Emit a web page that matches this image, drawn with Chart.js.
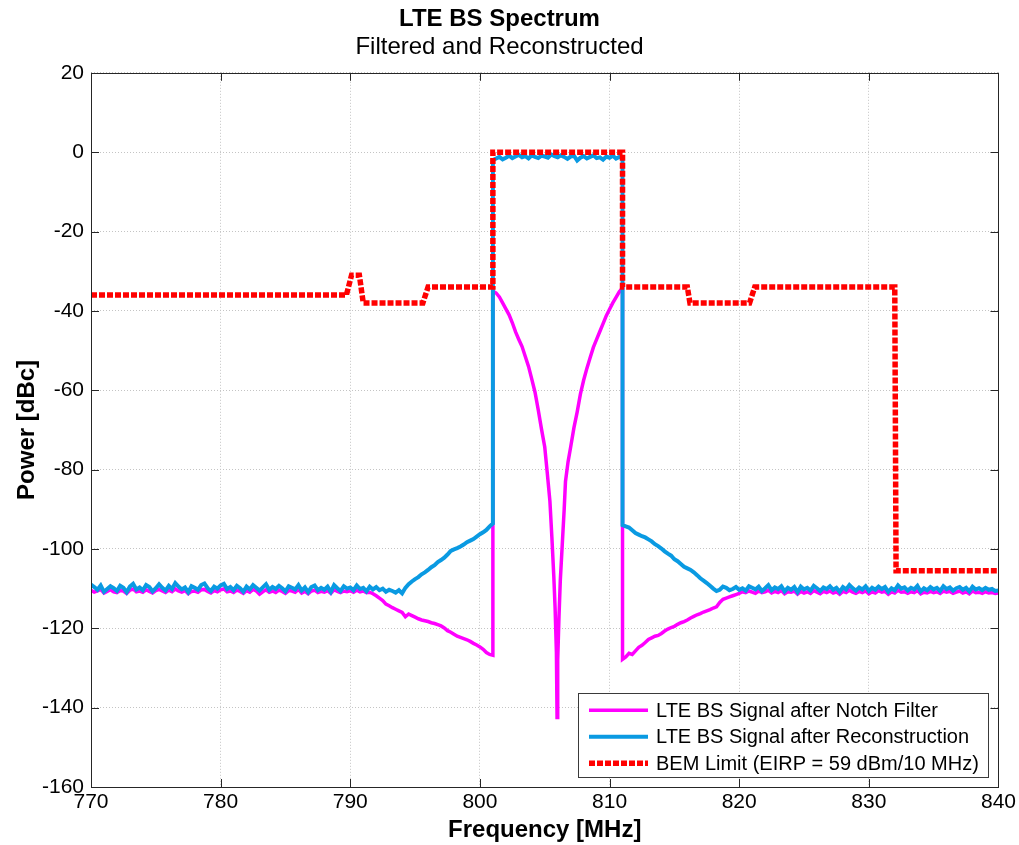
<!DOCTYPE html>
<html>
<head>
<meta charset="utf-8">
<title>LTE BS Spectrum</title>
<script src="https://cdn.jsdelivr.net/npm/chart.js@4.4.1/dist/chart.umd.min.js"></script>
<style>
  html, body { margin: 0; padding: 0; background: #fff; }
  #wrap { width: 1019px; height: 845px; }
</style>
</head>
<body>
<div id="wrap"><canvas id="spectrum-chart"></canvas></div>
<script>
// frequency axis [MHz] and power axis [dBc]
const freqTicks = [770, 780, 790, 800, 810, 820, 830, 840];
const powerTicks = [20, 0, -20, -40, -60, -80, -100, -120, -140, -160];

// sampled traces: one value every 0.25 MHz, segments split at the channel edges
const sampleStep = 0.25;
const leftStart = 770;   // 770 .. 801 MHz
const midStart = 801;    // 801 .. 811 MHz
const rightStart = 811;  // 811 .. 840 MHz

const notchLeft = [
    -110.4, -110.9, -110.6, -110.2, -111.1, -110.7, -110.3, -110.8,
    -111.0, -110.5, -110.6, -111.2, -110.4, -110.1, -110.8, -110.6,
    -110.9, -110.3, -110.7, -111.1, -110.5, -110.2, -110.6, -111.0,
    -110.4, -110.8, -110.1, -110.6, -110.9, -110.5, -111.3, -110.7,
    -110.6, -110.9, -110.3, -110.2, -110.7, -111.1, -110.5, -110.8,
    -110.3, -110.1, -110.8, -110.6, -111.0, -110.4, -110.7, -111.2,
    -110.5, -110.9, -110.2, -110.6, -111.4, -110.8, -110.3, -110.9,
    -110.6, -111.0, -110.4, -110.7, -111.2, -110.5, -110.6, -110.9,
    -110.2, -111.1, -110.7, -111.3, -110.6, -110.4, -111.0, -110.7,
    -110.9, -110.5, -111.2, -110.3, -110.7, -111.0, -110.6, -110.8,
    -110.5, -110.9, -110.4, -110.8, -110.6, -111.0, -110.9, -111.3,
    -111.8, -112.4, -113.0, -113.9, -114.3, -114.8, -115.2, -115.6,
    -116.0, -117.1, -116.4, -116.8, -117.2, -117.6, -117.9, -118.1,
    -118.3, -118.6, -118.8, -119.1, -119.4, -119.9, -120.6, -121.0,
    -121.5, -122.0, -122.3, -122.6, -122.9, -123.3, -123.8, -124.2,
    -124.7, -125.3, -126.1, -126.6,
    -126.8
];

// notch region is sampled unevenly around the 806 MHz null
const notchMidFreq = [
    801.0, 801.25, 801.5, 801.75, 802.0, 802.25, 802.5, 802.75, 803.0, 803.25,
    803.5, 803.75, 804.0, 804.25, 804.5, 804.75, 805.0, 805.2, 805.4, 805.55,
    805.7, 805.8, 805.9, 805.95, 806.0, 806.1, 806.2, 806.35, 806.5, 806.6,
    806.8, 807.0, 807.25, 807.5, 807.75, 808.0, 808.25, 808.5, 808.75, 809.0,
    809.25, 809.5, 809.75, 810.0, 810.25, 810.5, 810.75, 811.0
];
const notchMid = [
    -35.0, -35.5, -36.5, -38.0, -39.5, -41.0, -43.0, -45.3, -47.2, -49.0,
    -51.5, -54.0, -57.2, -60.5, -65.0, -69.8, -74.3, -81.0, -88.0, -97.0,
    -107.0, -115.0, -126.0, -142.5, -128.0, -117.0, -108.0, -99.0, -90.0, -83.0,
    -78.0, -74.3, -69.5, -65.5, -61.0, -57.5, -54.5, -51.8, -49.2, -47.2,
    -45.2, -43.2, -41.2, -39.6, -38.0, -36.6, -35.2, -34.2
];

const notchRight = [
    -127.8, -127.2, -126.3, -126.6, -125.7, -124.8, -124.3, -123.6,
    -122.8, -122.4, -122.0, -121.8, -121.3, -120.7, -120.2, -119.8,
    -119.5, -119.0, -118.6, -118.3, -117.9, -117.4, -117.0, -116.6,
    -116.3, -115.9, -115.6, -115.3, -114.9, -114.6, -113.5, -112.7,
    -112.4, -112.1, -111.8, -111.5, -111.2, -110.8, -111.0, -110.6,
    -110.9, -111.2, -110.6, -111.0, -110.8, -110.4, -111.1, -110.7,
    -111.0, -110.5, -111.3, -110.8, -110.9, -110.6, -111.4, -110.7,
    -111.1, -110.8, -111.2, -110.5, -110.9, -111.3, -110.7, -111.0,
    -110.6, -111.1, -110.8, -111.4, -110.7, -111.0, -110.4, -110.9,
    -111.2, -110.7, -111.0, -110.6, -111.3, -110.8, -111.1, -110.5,
    -110.9, -110.7, -111.4, -110.8, -111.1, -110.4, -110.9, -110.8,
    -111.2, -110.8, -111.0, -110.5, -111.3, -110.9, -111.1, -110.7,
    -111.0, -110.8, -111.2, -110.6, -110.9, -110.7, -111.2, -110.9,
    -110.6, -111.1, -110.8, -111.3, -110.6, -111.0, -110.9, -111.2,
    -110.8, -111.1, -111.0, -111.2,
    -111.1
];

const reconLeft = [
    -109.0, -109.6, -110.3, -109.2, -110.8, -110.1, -109.4, -109.9,
    -110.6, -109.3, -109.8, -110.9, -109.5, -108.8, -110.2, -109.7,
    -110.4, -109.1, -109.6, -110.7, -109.9, -108.9, -109.8, -110.5,
    -109.3, -110.1, -108.6, -109.5, -110.2, -109.7, -110.9, -109.4,
    -109.8, -110.3, -109.1, -108.7, -109.9, -110.6, -109.5, -110.0,
    -109.2, -108.8, -110.1, -109.6, -110.4, -109.3, -109.9, -110.8,
    -109.5, -110.2, -109.1, -109.8, -110.5, -109.7, -108.9, -110.3,
    -109.6, -110.1, -109.3, -109.9, -110.7, -109.4, -109.8, -110.2,
    -109.1, -110.5, -109.7, -110.9, -109.6, -109.2, -110.4, -109.8,
    -110.3, -109.5, -110.8, -109.1, -109.9, -110.6, -109.4, -110.0,
    -109.7, -110.4, -109.2, -110.1, -109.8, -110.7, -109.5, -110.2,
    -109.6, -110.4, -110.0, -110.8, -110.3, -110.6, -111.0, -110.4,
    -111.2, -109.8, -108.9, -108.2, -107.6, -107.1, -106.4, -105.9,
    -105.3, -104.6, -104.1, -103.3, -102.8, -102.2, -101.4, -100.5,
    -100.1, -99.8, -99.4, -98.9, -98.3, -97.9, -97.5, -96.9,
    -96.3, -95.8, -95.2, -94.3,
    -93.6
];

const reconMid = [
    -2.0, -1.6, -1.2, -1.8, -1.4, -0.9, -1.5, -1.1,
    -0.7, -1.3, -1.0, -1.6, -0.8, -1.2, -1.5, -0.9,
    -1.1, -1.4, -0.6, -1.0, -1.3, -0.8, -1.2, -1.7,
    -1.1, -0.9, -2.1, -1.4, -1.0, -1.6, -1.2, -0.8,
    -1.5, -1.3, -1.9, -1.1, -1.4, -0.9, -1.6, -1.2,
    -1.5
];

const reconRight = [
    -94.0, -94.3, -94.6, -95.3, -96.0, -96.4, -96.8, -97.1,
    -97.6, -98.1, -98.8, -99.3, -99.9, -100.6, -101.2, -101.7,
    -102.6, -103.1, -103.8, -104.5, -104.9, -105.3, -105.9, -106.6,
    -107.4, -108.0, -108.6, -109.3, -110.0, -110.6, -110.3, -109.5,
    -109.8, -110.4, -110.1, -109.6, -110.3, -109.9, -110.5, -109.4,
    -109.8, -110.2, -109.5, -110.6, -109.9, -109.1, -110.4, -109.7,
    -110.1, -109.4, -110.7, -109.8, -110.3, -109.6, -110.9, -109.5,
    -110.2, -109.8, -110.5, -109.3, -109.9, -110.6, -109.7, -110.1,
    -109.4, -110.3, -109.8, -110.8, -109.6, -110.2, -109.1, -109.9,
    -110.5, -109.7, -110.2, -109.4, -110.6, -109.8, -110.3, -109.5,
    -110.1, -109.6, -110.8, -109.9, -110.4, -109.2, -110.0, -109.7,
    -110.5, -109.8, -110.2, -109.3, -110.7, -109.9, -110.4, -109.6,
    -110.2, -109.8, -110.6, -109.4, -110.1, -109.7, -110.5, -109.9,
    -109.6, -110.3, -109.8, -110.7, -109.5, -110.2, -109.9, -110.4,
    -109.8, -110.3, -110.1, -110.6,
    -110.5
];

// block edge mask corner points
const bemFreq = [770, 789.7, 790.1, 790.7, 791.0, 795.6, 796.0, 801.0, 801.0,
    811.0, 811.0, 816.0, 816.2, 820.8, 821.2, 832.0, 832.1, 840];
const bemLimit = [-36, -36, -31, -31, -38, -38, -34, -34, 0,
    0, -34, -34, -38, -38, -34, -34, -105.5, -105.5];

const FONT = "'Liberation Sans', Arial, Helvetica, sans-serif";
Chart.defaults.font.family = FONT;
Chart.defaults.color = "#000";

function evenPoints(start, values) {
    return values.map((v, i) => ({ x: start + i * sampleStep, y: v }));
}
function pairPoints(xs, ys) {
    return xs.map((x, i) => ({ x: x, y: ys[i] }));
}

const notchData = [].concat(
    evenPoints(leftStart, notchLeft),
    pairPoints(notchMidFreq, notchMid),
    evenPoints(rightStart, notchRight)
);
const reconData = [].concat(
    evenPoints(leftStart, reconLeft),
    evenPoints(midStart, reconMid),
    evenPoints(rightStart, reconRight)
);
const bemData = pairPoints(bemFreq, bemLimit);

// matlab style box with inward tick marks
const axesBox = {
    id: "axesBox",
    afterDatasetsDraw(chart) {
        const { ctx, chartArea: a, scales } = chart;
        const len = 8;
        ctx.save();
        ctx.strokeStyle = "#262626";
        ctx.lineWidth = 1;
        ctx.beginPath();
        freqTicks.forEach((f) => {
            const x = Math.round(scales.x.getPixelForValue(f)) + 0.5;
            ctx.moveTo(x, a.bottom); ctx.lineTo(x, a.bottom - len);
            ctx.moveTo(x, a.top); ctx.lineTo(x, a.top + len);
        });
        powerTicks.forEach((p) => {
            const y = Math.round(scales.y.getPixelForValue(p)) + 0.5;
            ctx.moveTo(a.left, y); ctx.lineTo(a.left + len, y);
            ctx.moveTo(a.right, y); ctx.lineTo(a.right - len, y);
        });
        ctx.stroke();
        ctx.strokeRect(Math.round(a.left) + 0.5, Math.round(a.top) + 0.5,
            Math.round(a.right - a.left), Math.round(a.bottom - a.top));
        ctx.restore();
    }
};

// legend box in the lower right corner of the axes
const boxLegend = {
    id: "boxLegend",
    afterDraw(chart) {
        const { ctx, chartArea: a } = chart;
        const sets = chart.data.datasets;
        const rowH = 26.5;
        const lineLen = 59;
        ctx.save();
        ctx.font = "20px " + FONT;
        const textW = Math.max(...sets.map((d) => ctx.measureText(d.label).width));
        const w = Math.round(11 + lineLen + 8 + textW + 9);
        const h = Math.round(rowH * sets.length + 4);
        const right = Math.round(a.right) - 10;
        const bottom = Math.round(a.bottom) - 10;
        const left = right - w;
        const top = bottom - h;
        ctx.fillStyle = "#fff";
        ctx.fillRect(left, top, w, h);
        ctx.strokeStyle = "#3a3a3a";
        ctx.lineWidth = 1;
        ctx.strokeRect(left + 0.5, top + 0.5, w, h);
        sets.forEach((d, i) => {
            const y = top + 4 + rowH * (i + 0.5);
            ctx.beginPath();
            ctx.strokeStyle = d.borderColor;
            ctx.lineWidth = d.borderWidth;
            ctx.setLineDash(d.borderDash || []);
            ctx.moveTo(left + 11, y);
            ctx.lineTo(left + 11 + lineLen, y);
            ctx.stroke();
            ctx.setLineDash([]);
            ctx.fillStyle = "#000";
            ctx.textBaseline = "middle";
            ctx.textAlign = "left";
            ctx.fillText(d.label, left + 11 + lineLen + 8, y + 1);
        });
        ctx.restore();
    }
};

const spectrumChart = new Chart(document.getElementById("spectrum-chart"), {
    type: "line",
    data: {
        datasets: [
            {
                label: "LTE BS Signal after Notch Filter",
                data: notchData,
                borderColor: "#FF00FF",
                borderWidth: 3.5,
                pointRadius: 0,
                tension: 0,
                order: 3,
            },
            {
                label: "LTE BS Signal after Reconstruction",
                data: reconData,
                borderColor: "#0A9AE2",
                borderWidth: 4,
                pointRadius: 0,
                tension: 0,
                order: 2,
            },
            {
                label: "BEM Limit (EIRP = 59 dBm/10 MHz)",
                data: bemData,
                borderColor: "#FF0000",
                borderWidth: 5.5,
                borderDash: [6, 2],
                pointRadius: 0,
                tension: 0,
                order: 1,
            },
        ],
    },
    options: {
        responsive: true,
        maintainAspectRatio: false,
        animation: false,
        events: [],
        layout: { padding: { left: 0, right: 20, top: 0, bottom: 0 } },
        plugins: {
            legend: { display: false },
            tooltip: { enabled: false },
            title: {
                display: true,
                text: "LTE BS Spectrum",
                font: { size: 24, weight: "bold", lineHeight: 1.1 },
                padding: { top: 6, bottom: 1 },
            },
            subtitle: {
                display: true,
                text: "Filtered and Reconstructed",
                color: "#000",
                font: { size: 24, weight: "normal", lineHeight: 1.1 },
                padding: { top: 1, bottom: 12 },
            },
        },
        scales: {
            x: {
                type: "linear",
                min: 770,
                max: 840,
                afterBuildTicks: (scale) => { scale.ticks = freqTicks.map((v) => ({ value: v })); },
                ticks: { font: { size: 21 }, padding: 3, maxRotation: 0 },
                grid: { color: "#c4c4c4", lineWidth: 1, drawTicks: false },
                border: { display: false, dash: [1, 2] },
                title: {
                    display: true,
                    text: "Frequency [MHz]",
                    font: { size: 24, weight: "bold", lineHeight: 1.1 },
                    padding: { top: 0, bottom: 1 },
                },
                afterFit: (scale) => { scale.height = 58; },
            },
            y: {
                type: "linear",
                min: -160,
                max: 20,
                afterBuildTicks: (scale) => { scale.ticks = powerTicks.map((v) => ({ value: v })); },
                ticks: { font: { size: 21 }, padding: 7 },
                grid: { color: "#c4c4c4", lineWidth: 1, drawTicks: false },
                border: { display: false, dash: [1, 2] },
                title: {
                    display: true,
                    text: "Power [dBc]",
                    font: { size: 24, weight: "bold", lineHeight: 1.1 },
                    padding: { top: 14, bottom: 0 },
                },
                afterFit: (scale) => { scale.width = 91; },
            },
        },
    },
    plugins: [axesBox, boxLegend],
});
</script>
</body>
</html>
